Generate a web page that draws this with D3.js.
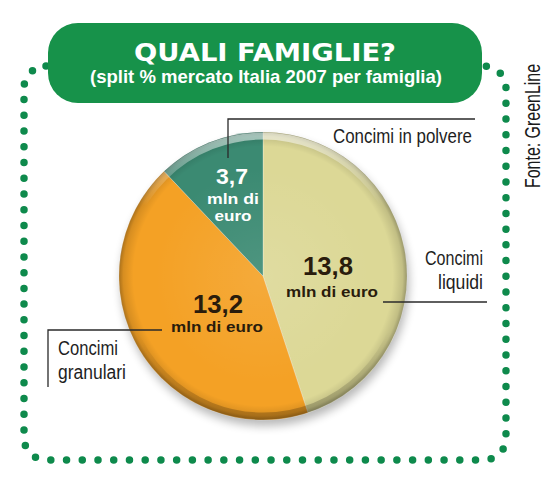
<!DOCTYPE html>
<html><head><meta charset="utf-8">
<script src="https://cdn.jsdelivr.net/npm/d3@7"></script>
<style>body{margin:0;background:#fff}svg{display:block}</style>
</head><body>
<script>
// ---- data ----
const categories = ["Concimi liquidi", "Concimi granulari", "Concimi in polvere"];
const values = [13.8, 13.2, 3.7];
const valueLabels = ["13,8", "13,2", "3,7"];
const unitLines = [["mln di euro"], ["mln di euro"], ["mln di", "euro"]];
const categoryLines = [["Concimi", "liquidi"], ["Concimi", "granulari"], ["Concimi in polvere"]];
const colors = ["#dcd896", "#f4a125", "#3b8a72"];
const title = "QUALI FAMIGLIE?";
const subtitle = "(split % mercato Italia 2007 per famiglia)";
const source = "Fonte: GreenLine";

// ---- layout ----
const W = 556, H = 480;
const cx = 263, cy = 276, R = 144;
const svg = d3.select("body").append("svg").attr("width", W).attr("height", H);
const defs = svg.append("defs");
const NARROW = "Liberation Sans, Arial, sans-serif";

// dotted frame
svg.append("rect").attr("x", 24).attr("y", 66).attr("width", 482).attr("height", 394)
  .attr("rx", 22).attr("fill", "none").attr("stroke", "#0e8a4c")
  .attr("stroke-width", 7.5).attr("stroke-linecap", "round")
  .attr("stroke-dasharray", "0 15.73");

// banner
svg.append("rect").attr("x", 48).attr("y", 23).attr("width", 434).attr("height", 80)
  .attr("rx", 30).attr("fill", "#17924a");
svg.append("text").attr("x", 265).attr("y", 61).attr("text-anchor", "middle")
  .attr("font-family", "DejaVu Sans").attr("font-weight", "bold").attr("font-size", 25)
  .attr("fill", "#fff").attr("textLength", 262).attr("lengthAdjust", "spacingAndGlyphs")
  .text(title);
svg.append("text").attr("x", 266).attr("y", 83).attr("text-anchor", "middle")
  .attr("font-family", "Liberation Sans, Arial, sans-serif").attr("font-weight", "bold").attr("font-size", 18.5)
  .attr("fill", "#fff").attr("textLength", 352).attr("lengthAdjust", "spacingAndGlyphs")
  .text(subtitle);

// source
svg.append("text").attr("transform", "translate(540,126) rotate(-90)").attr("text-anchor", "middle")
  .attr("font-family", NARROW).attr("font-size", 22)
  .attr("fill", "#1a1a1a").attr("textLength", 124).attr("lengthAdjust", "spacingAndGlyphs")
  .text(source);

// shadow
const blur = defs.append("filter").attr("id", "blur").attr("x", "-20%").attr("y", "-20%").attr("width", "140%").attr("height", "140%");
blur.append("feGaussianBlur").attr("stdDeviation", 5);
svg.append("circle").attr("cx", cx + 2).attr("cy", cy + 6).attr("r", R)
  .attr("fill", "#000").attr("opacity", 0.28).attr("filter", "url(#blur)");

// pie
const pie = d3.pie().sort(null).value(d => d)(values);
const arc = d3.arc().innerRadius(0).outerRadius(R);
const g = svg.append("g").attr("transform", `translate(${cx},${cy})`);
g.selectAll("path.slice").data(pie).join("path").attr("class", "slice")
  .attr("d", arc).attr("fill", (d, i) => colors[i])
  .attr("stroke", "rgba(255,255,255,0.35)").attr("stroke-width", 0.8);

// shading overlays
const rg = defs.append("radialGradient").attr("id", "rim");
[[0, "#fff", 0.1], [0.75, "#fff", 0], [0.9, "#000", 0], [0.97, "#000", 0.12], [1, "#000", 0.3]]
  .forEach(s => rg.append("stop").attr("offset", s[0]).attr("stop-color", s[1]).attr("stop-opacity", s[2]));
g.append("circle").attr("r", R).attr("fill", "url(#rim)");
const lg = defs.append("linearGradient").attr("id", "bevel").attr("x1", 0).attr("y1", 0).attr("x2", 0).attr("y2", 1);
[[0, "#fff", 0.55], [0.25, "#fff", 0], [0.7, "#000", 0], [1, "#000", 0.22]]
  .forEach(s => lg.append("stop").attr("offset", s[0]).attr("stop-color", s[1]).attr("stop-opacity", s[2]));
g.append("circle").attr("r", R - 4).attr("fill", "none").attr("stroke", "url(#bevel)").attr("stroke-width", 7);

// value labels (positions relative to pie centre)
const valuePos = [[65, -1], [-45, 37], [-31, -92]];
const unitPos = [[69, 21], [-46, 56], [-30, -72]];
const unitSize = [15, 15, 14.5];
const valueColor = ["#2a1c0c", "#2a1c0c", "#ffffff"];
const valueSize = [25, 25, 22];
pie.forEach((d, i) => {
  g.append("text").attr("text-anchor", "middle").attr("fill", valueColor[i])
    .attr("font-family", "Liberation Sans, Arial, sans-serif").attr("font-weight", "bold")
    .attr("x", valuePos[i][0]).attr("y", valuePos[i][1]).attr("font-size", valueSize[i])
    .attr("textLength", i === 2 ? 32 : 50).attr("lengthAdjust", "spacingAndGlyphs")
    .text(valueLabels[i]);
  unitLines[i].forEach((ln, j) => {
    g.append("text").attr("text-anchor", "middle").attr("fill", valueColor[i])
      .attr("font-family", "Liberation Sans, Arial, sans-serif").attr("font-weight", "bold")
      .attr("x", unitPos[i][0]).attr("y", unitPos[i][1] + j * 17).attr("font-size", unitSize[i])
      .attr("textLength", ln.length > 6 ? 92 : (ln.length === 6 ? 52 : 37)).attr("lengthAdjust", "spacingAndGlyphs")
      .text(ln);
  });
});

// leader lines
const leaders = ["M383,302H487", "M162,330H48V387", "M228,158V119H475"];
svg.selectAll("path.leader").data(leaders).join("path").attr("class", "leader")
  .attr("d", d => d).attr("fill", "none").attr("stroke", "#2a2a2a").attr("stroke-width", 1.3);

// category labels
const catPos = [[483, 265, "end"], [58, 355, "start"], [472, 143, "end"]];
const catWidths = [[58, 45], [60, 68], [139]];
categoryLines.forEach((lines, i) => {
  lines.forEach((ln, j) => svg.append("text").attr("text-anchor", catPos[i][2]).attr("fill", "#1e1e1e")
    .attr("font-family", NARROW).attr("font-size", 20)
    .attr("x", catPos[i][0]).attr("y", catPos[i][1] + j * 24)
    .attr("textLength", catWidths[i][j]).attr("lengthAdjust", "spacingAndGlyphs")
    .text(ln));
});
</script>
</body></html>
